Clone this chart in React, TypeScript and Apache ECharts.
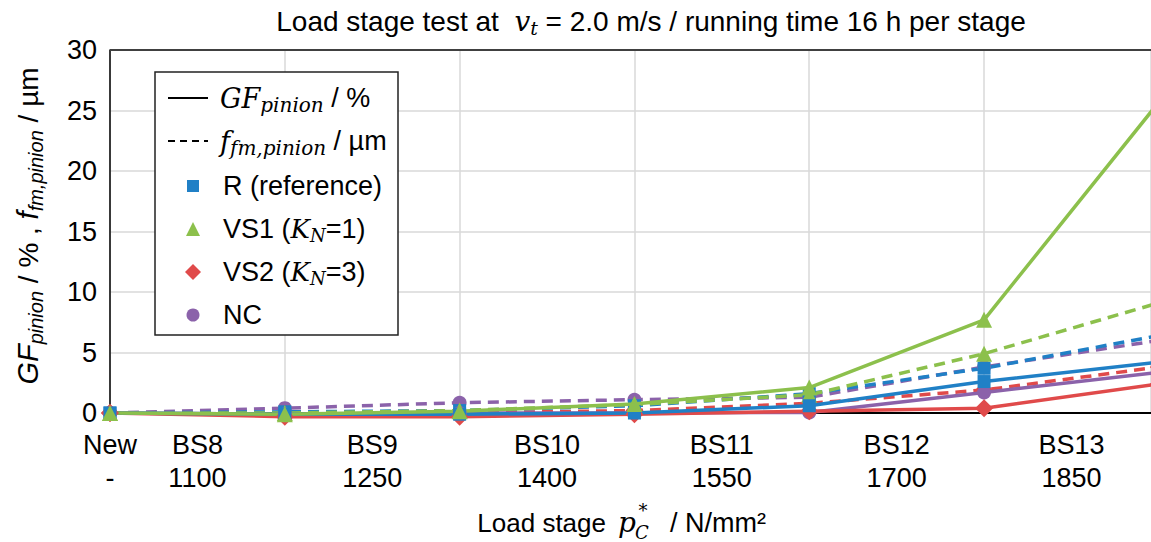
import { useEffect, useRef } from "react";
import * as echarts from "echarts";

const stages = [0, 1, 2, 3, 4, 5, 6];
const stageNames = ["New", "BS8", "BS9", "BS10", "BS11", "BS12", "BS13"];
const stagePressures = ["-", "1100", "1250", "1400", "1550", "1700", "1850"];

const gfR = [0, -0.1, -0.1, 0, 0.6, 2.6, 4.2];
const gfVS1 = [0, -0.1, 0.15, 0.75, 2.1, 7.7, 25.7];
const gfVS2 = [0, -0.3, -0.3, -0.1, 0.15, 0.4, 2.4];
const gfNC = [0, -0.1, 0, 0, 0.05, 1.7, 3.35];

const ffmR = [0, 0.1, 0.2, 0.6, 1.6, 3.7, 6.4];
const ffmVS1 = [0, 0, 0.2, 0.7, 1.5, 4.9, 9.1];
const ffmVS2 = [0, -0.1, 0, 0.2, 0.8, 1.9, 3.8];
const ffmNC = [0, 0.4, 0.85, 1.1, 1.3, 3.8, 6.0];

const C_R = "#2080c6";
const C_VS1 = "#8cc04c";
const C_VS2 = "#e04a4a";
const C_NC = "#8b62aa";

const SANS = "Liberation Sans, Arial, sans-serif";
const SERIF = "DejaVu Serif, serif";

// visible x range (last stage lies just beyond the right edge of the picture)
const X_MAX = 5.955;

function pairs(vals: number[]) {
  return stages.map((s, i) => [s, vals[i]]);
}

export default function App() {
  const ref = useRef<HTMLDivElement>(null);
  useEffect(() => {
    document.body.style.margin = "0";
    const chart = echarts.init(ref.current!, undefined, { renderer: "svg" });

    const mk = (
      name: string,
      vals: number[],
      color: string,
      dashed: boolean,
      symbol: string,
      size: number,
      z: number
    ) => ({
      name,
      type: "line",
      xAxisIndex: 0,
      data: pairs(vals),
      symbol,
      symbolSize: size,
      clip: false,
      z,
      itemStyle: { color },
      lineStyle: { color, width: 3.5, type: dashed ? [11, 7] : "solid" },
    });

    const labelRich = {
      a: { fontSize: 27, fontFamily: SANS, color: "#000", lineHeight: 33 },
    };

    const mathRich = (n: number, m: number, s: number, pad: number) => ({
      n: { fontSize: n, fontFamily: SANS, fill: "#000" },
      m: { fontSize: m, fontFamily: SERIF, fontStyle: "italic", fill: "#000" },
      s: { fontSize: s, fontFamily: SERIF, fontStyle: "italic", fill: "#000", padding: [pad, 0, 0, 0] },
    });

    chart.setOption({
      animation: false,
      grid: {
        left: 110,
        right: 0,
        top: 50,
        bottom: 129,
        show: false,
      },
      xAxis: [
        {
          type: "value",
          min: 0,
          max: X_MAX,
          interval: 1,
          position: "bottom",
          axisLine: { show: true, lineStyle: { color: "#000", width: 2 } },
          axisTick: { show: false },
          axisLabel: { show: false },
          splitLine: { show: true, lineStyle: { color: "#d9d9d9", width: 1.5 } },
        },
        {
          type: "value",
          min: 0,
          max: X_MAX,
          interval: 0.5,
          position: "bottom",
          axisLine: { show: false },
          axisTick: { show: false },
          splitLine: { show: false },
          axisLabel: {
            show: true,
            margin: 15,
            showMinLabel: true,
            showMaxLabel: false,
            hideOverlap: false,
            formatter: (v: number) => {
              let idx = -1;
              if (Math.abs(v) < 1e-6) idx = 0;
              else if (Math.abs(v * 2 - Math.round(v * 2)) < 1e-6 && Math.round(v * 2) % 2 === 1)
                idx = (Math.round(v * 2) + 1) / 2;
              if (idx < 0 || idx > 6) return "";
              return "{a|" + stageNames[idx] + "}\n{a|" + stagePressures[idx] + "}";
            },
            rich: labelRich,
          },
        },
      ],
      yAxis: {
        type: "value",
        min: 0,
        max: 30,
        interval: 5,
        axisLine: { show: true, lineStyle: { color: "#000", width: 1.5 } },
        axisTick: { show: false },
        axisLabel: { fontSize: 27, fontFamily: SANS, color: "#000", margin: 13 },
        splitLine: { show: true, lineStyle: { color: "#d9d9d9", width: 1.5 } },
      },
      series: [
        mk("NC ffm", ffmNC, C_NC, true, "circle", 14, 2),
        mk("VS2 ffm", ffmVS2, C_VS2, true, "diamond", 18, 2),
        mk("R ffm", ffmR, C_R, true, "rect", 13, 2),
        mk("VS1 ffm", ffmVS1, C_VS1, true, "triangle", 16, 2),
        mk("NC GF", gfNC, C_NC, false, "circle", 14, 3),
        mk("VS2 GF", gfVS2, C_VS2, false, "diamond", 18, 3),
        mk("R GF", gfR, C_R, false, "rect", 13, 3),
        mk("VS1 GF", gfVS1, C_VS1, false, "triangle", 16, 3),
      ],
      graphic: [
        // top frame line of the plot area
        {
          type: "line",
          z: 50,
          shape: { x1: 110, y1: 50, x2: 1151, y2: 50 },
          style: { stroke: "#404040", lineWidth: 2 },
        },
        {
          type: "text",
          x: 651,
          y: 21,
          style: {
            text:
              "{n|Load stage test at  }{m|v}{s|t}{n| = 2.0 m/s / running time 16 h per stage}",
            align: "center",
            verticalAlign: "middle",
            rich: mathRich(28, 28, 19, 13),
          },
        },
        // x-axis name: "Load stage p*_C / N/mm²"
        {
          type: "text",
          x: 606,
          y: 523,
          style: { text: "Load stage", fontSize: 26, fontFamily: SANS, fill: "#000", align: "right", verticalAlign: "middle" },
        },
        {
          type: "text",
          x: 627,
          y: 522,
          style: { text: "p", fontSize: 28, fontFamily: SERIF, fontStyle: "italic", fill: "#000", align: "center", verticalAlign: "middle" },
        },
        {
          type: "text",
          x: 643,
          y: 510,
          style: { text: "*", fontSize: 18, fontFamily: SERIF, fill: "#000", align: "center", verticalAlign: "middle" },
        },
        {
          type: "text",
          x: 642,
          y: 532,
          style: { text: "C", fontSize: 18, fontFamily: SERIF, fontStyle: "italic", fill: "#000", align: "center", verticalAlign: "middle" },
        },
        {
          type: "text",
          x: 670,
          y: 523,
          style: { text: "/ N/mm²", fontSize: 27, fontFamily: SANS, fill: "#000", align: "left", verticalAlign: "middle" },
        },
        {
          type: "text",
          x: 28,
          y: 226,
          rotation: Math.PI / 2,
          style: {
            text: "{m|GF}{s|pinion}{n| / % , }{m|f}{s|fm,pinion}{n| / µm}",
            align: "center",
            verticalAlign: "middle",
            rich: {
              n: { fontSize: 28, fontFamily: SANS, fill: "#000" },
              m: { fontSize: 29, fontFamily: SANS, fontStyle: "italic", fill: "#000" },
              s: { fontSize: 20, fontFamily: SANS, fontStyle: "italic", fill: "#000", padding: [15, 0, 0, 0] },
            },
          },
        },
        // legend
        {
          type: "rect",
          z: 100,
          shape: { x: 155, y: 72, width: 243, height: 263 },
          style: { fill: "#fff", stroke: "#222", lineWidth: 1.5 },
        },
        {
          type: "line",
          z: 101,
          shape: { x1: 168, y1: 98, x2: 208, y2: 98 },
          style: { stroke: "#000", lineWidth: 2 },
        },
        {
          type: "line",
          z: 101,
          shape: { x1: 168, y1: 141, x2: 208, y2: 141 },
          style: { stroke: "#000", lineWidth: 2, lineDash: [7, 5] },
        },
        {
          type: "text",
          z: 101,
          x: 220,
          y: 98,
          style: {
            text: "{m|GF}{s|pinion}{n| / %}",
            align: "left",
            verticalAlign: "middle",
            rich: mathRich(27, 27, 20, 14),
          },
        },
        {
          type: "text",
          z: 101,
          x: 220,
          y: 141,
          style: {
            text: "{m|f}{s|fm,pinion}{n| / µm}",
            align: "left",
            verticalAlign: "middle",
            rich: mathRich(27, 27, 20, 14),
          },
        },
        {
          type: "rect",
          z: 101,
          shape: { x: 187, y: 180, width: 12, height: 12 },
          style: { fill: C_R },
        },
        {
          type: "polygon",
          z: 101,
          shape: { points: [[193, 222], [200, 236], [186, 236]] },
          style: { fill: C_VS1 },
        },
        {
          type: "polygon",
          z: 101,
          shape: { points: [[193, 264], [201, 272], [193, 280], [185, 272]] },
          style: { fill: C_VS2 },
        },
        {
          type: "circle",
          z: 101,
          shape: { cx: 193, cy: 315, r: 6.5 },
          style: { fill: C_NC },
        },
        {
          type: "text",
          z: 101,
          x: 223,
          y: 186,
          style: { text: "R (reference)", fontSize: 27, fontFamily: SANS, fill: "#000", align: "left", verticalAlign: "middle" },
        },
        {
          type: "text",
          z: 101,
          x: 223,
          y: 229,
          style: {
            text: "{n|VS1 (}{m|K}{s|N}{n|=1)}",
            align: "left",
            verticalAlign: "middle",
            rich: mathRich(27, 26, 18, 12),
          },
        },
        {
          type: "text",
          z: 101,
          x: 223,
          y: 272,
          style: {
            text: "{n|VS2 (}{m|K}{s|N}{n|=3)}",
            align: "left",
            verticalAlign: "middle",
            rich: mathRich(27, 26, 18, 12),
          },
        },
        {
          type: "text",
          z: 101,
          x: 223,
          y: 315,
          style: { text: "NC", fontSize: 27, fontFamily: SANS, fill: "#000", align: "left", verticalAlign: "middle" },
        },
      ],
    });
    return () => chart.dispose();
  }, []);
  return <div ref={ref} style={{ width: 1151, height: 542 }} />;
}
